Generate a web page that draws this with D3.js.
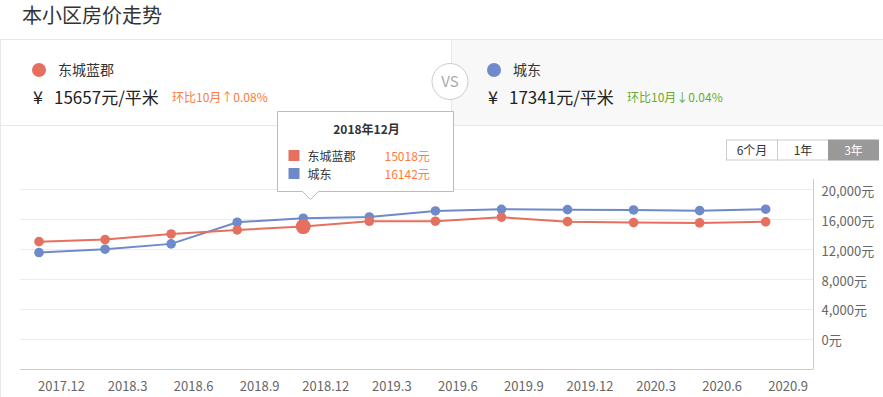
<!DOCTYPE html>
<html>
<head>
<meta charset="utf-8">
<script src="https://cdn.jsdelivr.net/npm/d3@7"></script>
<style>
  body { margin: 0; background: #fff; font-family: "Noto Sans CJK SC", "Noto Sans", sans-serif; }
  svg text { font-family: "Noto Sans CJK SC", "Noto Sans", sans-serif; }
</style>
</head>
<body>
<svg id="chart" width="883" height="397"></svg>
<script>
// ---- data ----
const months = ['2017.12','2018.3','2018.6','2018.9','2018.12','2019.3','2019.6','2019.9','2019.12','2020.3','2020.6','2020.9'];
const seriesNames = ['东城蓝郡', '城东'];
const redValues  = [13010, 13280, 14040, 14570, 15018, 15730, 15740, 16270, 15680, 15550, 15510, 15657];
const blueValues = [11550, 12000, 12710, 15600, 16142, 16300, 17110, 17330, 17280, 17240, 17150, 17341];
const yTicks = [0, 4000, 8000, 12000, 16000, 20000];
const ranges = ['6个月', '1年', '3年'];

const red = '#e5705f', blue = '#6e8acb';
const svg = d3.select('#chart');

// ---- header ----
svg.append('text').attr('x', 22).attr('y', 23).text('本小区房价走势')
  .style('font-size', '20px').style('fill', '#333');

svg.append('rect').attr('x', 452).attr('y', 40).attr('width', 431).attr('height', 85).attr('fill', '#f8f8f8');
svg.append('line').attr('x1', 0).attr('x2', 883).attr('y1', 39.5).attr('y2', 39.5).attr('stroke', '#e8e8e8');
svg.append('line').attr('x1', 0).attr('x2', 883).attr('y1', 125.5).attr('y2', 125.5).attr('stroke', '#e8e8e8');
svg.append('line').attr('x1', 451.5).attr('x2', 451.5).attr('y1', 40).attr('y2', 125).attr('stroke', '#e8e8e8');
svg.append('line').attr('x1', 0.5).attr('x2', 0.5).attr('y1', 39).attr('y2', 397).attr('stroke', '#e8e8e8');

const cards = [
  { x: 39, name: seriesNames[0], color: red, price: '15657', chg: '环比10月↑0.08%', chgColor: '#ff7a3d', chgX: 172 },
  { x: 494, name: seriesNames[1], color: blue, price: '17341', chg: '环比10月↓0.04%', chgColor: '#6bab2e', chgX: 627 }
];
cards.forEach(c => {
  svg.append('circle').attr('cx', c.x).attr('cy', 70).attr('r', 7).attr('fill', c.color);
  svg.append('text').attr('x', c.x + 19).attr('y', 75).text(c.name).style('font-size', '14px').style('fill', '#333');
  svg.append('text').attr('x', c.x - 6).attr('y', 104).text('¥').style('font-size', '18px').style('fill', '#222');
  svg.append('text').attr('x', c.x + 15).attr('y', 104).text(c.price + '元/平米').style('font-size', '17px').style('fill', '#222');
  svg.append('text').attr('x', c.chgX).attr('y', 102).text(c.chg).style('font-size', '12px').style('fill', c.chgColor);
});

svg.append('circle').attr('cx', 450).attr('cy', 81.5).attr('r', 18).attr('fill', '#fff').attr('stroke', '#ccc');
svg.append('text').attr('x', 450).attr('y', 87).attr('text-anchor', 'middle').text('VS')
  .style('font-size', '15px').style('fill', '#aaa');

// ---- range buttons ----
const btn = svg.append('g').attr('transform', 'translate(726,139.5)');
ranges.forEach((r, i) => {
  const w = [51, 51, 50][i], bx = [0, 51, 102][i];
  btn.append('rect').attr('x', bx + 0.5).attr('y', 0.5).attr('width', w).attr('height', 20)
    .attr('fill', i === 2 ? '#999' : '#fff').attr('stroke', i === 2 ? '#999' : '#ccc');
  btn.append('text').attr('x', bx + w / 2 + 0.5).attr('y', 15).attr('text-anchor', 'middle').text(r)
    .style('font-size', '12px').style('fill', i === 2 ? '#fff' : '#333');
});

// ---- chart ----
const plotL = 20, plotR = 813, plotTop = 179, plotBottom = 369;
const x = d3.scalePoint().domain(months).range([39, 765.7]);
const y = d3.scaleLinear().domain([-4000, 20000]).range([plotBottom, 189.3]);

svg.append('g').selectAll('line').data(yTicks).join('line')
  .attr('x1', plotL).attr('x2', plotR)
  .attr('y1', d => Math.round(y(d)) + 0.5).attr('y2', d => Math.round(y(d)) + 0.5)
  .attr('stroke', '#ececec');

const yAxis = svg.append('g').attr('transform', `translate(${plotR + 0.5},0)`)
  .call(d3.axisRight(y).tickValues(yTicks).tickSize(0).tickPadding(8)
    .tickFormat(d => d3.format(',')(d) + '元'));
yAxis.select('.domain').remove();
yAxis.selectAll('text').style('font-size', '13px').style('fill', '#666').attr('dy', '0.45em');
svg.append('line').attr('x1', plotR + 0.5).attr('x2', plotR + 0.5).attr('y1', plotTop).attr('y2', plotBottom)
  .attr('stroke', '#ccc');

const xAxis = svg.append('g').attr('transform', `translate(0,${plotBottom + 0.5})`)
  .call(d3.axisBottom(x).tickSize(0).tickPadding(12));
xAxis.select('.domain').remove();
xAxis.selectAll('text').attr('dx', 22).style('font-size', '13px').style('fill', '#666');
svg.append('line').attr('x1', plotL).attr('x2', plotR + 0.5).attr('y1', plotBottom + 0.5).attr('y2', plotBottom + 0.5)
  .attr('stroke', '#ccc');

const line = d3.line().x((d, i) => x(months[i])).y(d => y(d));
[[blueValues, blue], [redValues, red]].forEach(([vals, col]) => {
  svg.append('path').datum(vals).attr('d', line).attr('fill', 'none').attr('stroke', col).attr('stroke-width', 2);
  svg.append('g').selectAll('circle').data(vals).join('circle')
    .attr('cx', (d, i) => x(months[i])).attr('cy', d => y(d))
    .attr('r', (d, i) => (col === red && i === 4) ? 7.5 : 4.8)
    .attr('fill', col);
});

// ---- tooltip ----
const tip = svg.append('g').attr('transform', 'translate(277.5,111.5)');
tip.append('path')
  .attr('d', 'M0,0 H176 V80 H41 L33,88 L25,80 H0 Z')
  .attr('fill', '#fff').attr('stroke', '#bbb');
tip.append('text').attr('x', 89).attr('y', 22).attr('text-anchor', 'middle').text('2018年12月')
  .style('font-size', '12px').style('font-weight', 'bold').style('fill', '#333');
[[seriesNames[0], red, redValues[4]], [seriesNames[1], blue, blueValues[4]]].forEach(([n, c, v], i) => {
  tip.append('rect').attr('x', 11).attr('y', 38.5 + i * 18).attr('width', 11).attr('height', 11).attr('fill', c);
  tip.append('text').attr('x', 30).attr('y', 49 + i * 18).text(n).style('font-size', '12px').style('fill', '#333');
  tip.append('text').attr('x', 107).attr('y', 49 + i * 18).text(v + '元').style('font-size', '12px').style('fill', '#ff7a3d');
});
</script>
</body>
</html>
